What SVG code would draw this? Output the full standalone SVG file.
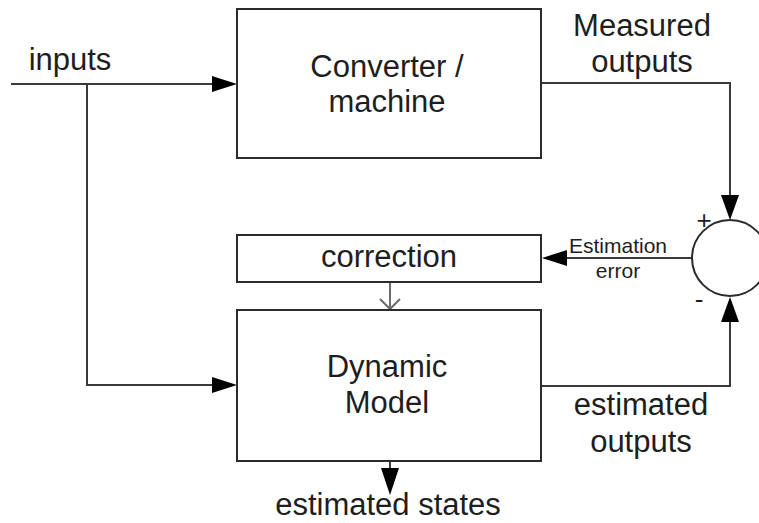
<svg xmlns="http://www.w3.org/2000/svg" width="759" height="523" viewBox="0 0 759 523">
  <style>
    .box { fill: #ffffff; stroke: #2b2b2b; stroke-width: 2; }
    .wire { fill: none; stroke: #3a3a3a; stroke-width: 2; }
    .thin { fill: none; stroke: #6a6a6a; stroke-width: 2; }
    .lbl { font-family: "Liberation Sans", Arial, sans-serif; font-size: 31px; fill: #1e1e1e; text-anchor: middle; }
    .small { font-family: "Liberation Sans", Arial, sans-serif; font-size: 21px; fill: #1e1e1e; text-anchor: middle; }
    .sign { font-family: "Liberation Sans", Arial, sans-serif; font-size: 26px; fill: #1e1e1e; text-anchor: middle; }
    .head { fill: #000000; stroke: none; }
  </style>

  <g id="connectors">
    <!-- inputs into the converter -->
    <path class="wire" d="M11,84 H214"/>
    <polygon class="head" points="237,84 212,76 212,92"/>
    <!-- branch of inputs into the dynamic model -->
    <path class="wire" d="M87,84 V385 H214"/>
    <polygon class="head" points="237,385 212,377 212,393"/>
    <!-- measured outputs to the summing junction -->
    <path class="wire" d="M541,83 H730 V197"/>
    <polygon class="head" points="730,220 721,195 739,195"/>
    <!-- estimated outputs to the summing junction -->
    <path class="wire" d="M541,386 H730 V320"/>
    <polygon class="head" points="730,297 721,322 739,322"/>
    <!-- estimation error back to the correction -->
    <path class="wire" d="M692,258 H565"/>
    <polygon class="head" points="542,258 567,250 567,266"/>
    <!-- correction into the model -->
    <path class="thin" d="M390,282 V309"/>
    <path class="thin" d="M380,299 L390,309 L400,299"/>
    <!-- estimated states -->
    <path class="wire" d="M390,462 V470"/>
    <polygon class="head" points="390,495 381,468 399,468"/>
  </g>

  <g id="converter">
    <rect class="box" x="237" y="9" width="304" height="149"/>
    <text class="lbl" x="387" y="77">Converter /</text>
    <text class="lbl" x="387" y="112">machine</text>
  </g>

  <g id="correction">
    <rect class="box" x="237" y="235" width="304" height="47"/>
    <text class="lbl" x="389" y="267">correction</text>
  </g>

  <g id="dynamic-model">
    <rect class="box" x="237" y="310" width="304" height="151"/>
    <text class="lbl" x="387" y="377">Dynamic</text>
    <text class="lbl" x="387" y="413">Model</text>
  </g>

  <g id="summing-junction">
    <circle class="box" cx="730" cy="258" r="38"/>
    <text class="sign" x="704" y="229">+</text>
    <text class="sign" x="699" y="308">-</text>
  </g>

  <g id="labels">
    <text class="lbl" x="70" y="70">inputs</text>
    <text class="lbl" x="642" y="36">Measured</text>
    <text class="lbl" x="642" y="72">outputs</text>
    <text class="small" x="618" y="253">Estimation</text>
    <text class="small" x="618" y="278">error</text>
    <text class="lbl" x="641" y="415">estimated</text>
    <text class="lbl" x="641" y="452">outputs</text>
    <text class="lbl" x="388" y="515">estimated states</text>
  </g>
</svg>
